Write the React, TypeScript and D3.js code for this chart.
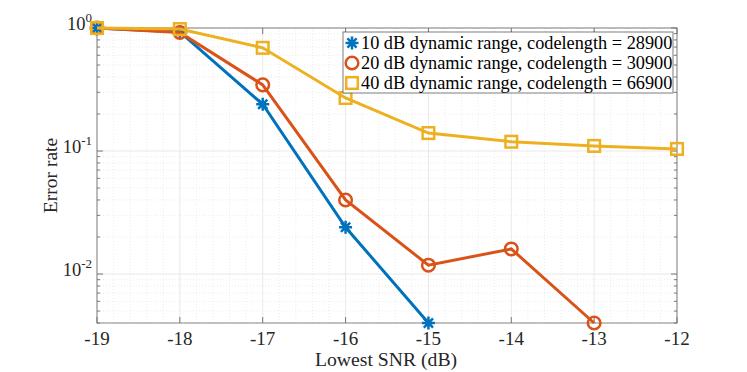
import React from "react";
import * as d3 from "d3";

const snr = [-19, -18, -17, -16, -15, -14, -13, -12];
const err10 = [1.0, 0.93, 0.24, 0.024, 0.004];
const err20 = [1.0, 0.92, 0.345, 0.04, 0.0118, 0.016, 0.004];
const err40 = [1.0, 0.98, 0.69, 0.27, 0.14, 0.119, 0.11, 0.104];
const legendLabels = [
  "10 dB dynamic range, codelength = 28900",
  "20 dB dynamic range, codelength = 30900",
  "40 dB dynamic range, codelength = 66900",
];
const xTicks = [-19, -18, -17, -16, -15, -14, -13, -12];
const yTickExps = [0, -1, -2];
const colors = ["#0072BD", "#D95319", "#EDB120"];

const W = 747, H = 372;
const L = 97, R = 677, T = 28, B = 323;

export default function App() {
  const x = d3.scaleLinear().domain([-19, -12]).range([L, R]);
  const y = d3.scaleLog().domain([0.004, 1]).range([B, T]);
  const series = [err10, err20, err40];
  const line = d3.line<[number, number]>().x(d => x(d[0])).y(d => y(d[1]));

  const minorX: number[] = [];
  for (let v = -19; v <= -12.0001; v += 0.2) {
    const r = Math.round(v * 10) / 10;
    if (Math.abs(r - Math.round(r)) > 1e-6) minorX.push(r);
  }
  const minorY: number[] = [];
  for (let e = -3; e <= 0; e++) for (let k = 2; k <= 9; k++) {
    const v = k * Math.pow(10, e);
    if (v >= 0.004 && v <= 1) minorY.push(v);
  }

  const marker = (i: number, cx: number, cy: number, key: string | number) => {
    const c = colors[i];
    if (i === 0) {
      const r = 6.5;
      const paths = [0, 45, 90, 135].map(a => {
        const rad = (a * Math.PI) / 180;
        return `M${cx - r * Math.cos(rad)},${cy - r * Math.sin(rad)}L${cx + r * Math.cos(rad)},${cy + r * Math.sin(rad)}`;
      });
      return <path key={key} d={paths.join("")} stroke={c} strokeWidth={2.5} fill="none" />;
    }
    if (i === 1) return <circle key={key} cx={cx} cy={cy} r={6.3} stroke={c} strokeWidth={2.5} fill="none" />;
    return <rect key={key} x={cx - 5.8} y={cy - 5.8} width={11.6} height={11.6} stroke={c} strokeWidth={2.5} fill="none" />;
  };

  const font = "'Liberation Serif', 'Times New Roman', serif";

  return (
    <svg width={W} height={H} style={{ position: "absolute", left: 0, top: 0, background: "#fff" }} fontFamily={font}>
      <rect x={0} y={0} width={W} height={H} fill="#fff" />
      {minorX.map((v, i) => (
        <line key={"mx" + i} x1={x(v)} x2={x(v)} y1={T} y2={B} stroke="#e4e4e4" strokeWidth={0.7} strokeDasharray="1,2" />
      ))}
      {minorY.map((v, i) => (
        <line key={"my" + i} x1={L} x2={R} y1={y(v)} y2={y(v)} stroke="#e4e4e4" strokeWidth={0.7} strokeDasharray="1,2" />
      ))}
      {xTicks.map((v, i) => (
        <line key={"gx" + i} x1={x(v)} x2={x(v)} y1={T} y2={B} stroke="#e3e3e3" strokeWidth={0.8} />
      ))}
      {yTickExps.map((e, i) => (
        <line key={"gy" + i} x1={L} x2={R} y1={y(Math.pow(10, e))} y2={y(Math.pow(10, e))} stroke="#e3e3e3" strokeWidth={0.8} />
      ))}
      <rect x={L} y={T} width={R - L} height={B - T} fill="none" stroke="#262626" strokeOpacity={0.55} strokeWidth={1} />
      {xTicks.map((v, i) => (
        <g key={"xt" + i}>
          <line x1={x(v)} x2={x(v)} y1={B} y2={B - 6} stroke="#777" />
          <line x1={x(v)} x2={x(v)} y1={T} y2={T + 6} stroke="#777" />
          <text x={x(v)} y={B + 22} textAnchor="middle" fontSize={19} fill="#262626">{v}</text>
        </g>
      ))}
      {yTickExps.map((e, i) => (
        <g key={"yt" + i}>
          <line x1={L} x2={L + 6} y1={y(Math.pow(10, e))} y2={y(Math.pow(10, e))} stroke="#777" />
          <line x1={R} x2={R - 6} y1={y(Math.pow(10, e))} y2={y(Math.pow(10, e))} stroke="#777" />
          <text x={L - 5} y={y(Math.pow(10, e)) + 2} textAnchor="end" fontSize={18.5} fill="#262626">
            10<tspan dy={-8} fontSize={13}>{e}</tspan>
          </text>
        </g>
      ))}
      {minorY.map((v, i) => (
        <g key={"myt" + i}>
          <line x1={L} x2={L + 3} y1={y(v)} y2={y(v)} stroke="#777" />
          <line x1={R} x2={R - 3} y1={y(v)} y2={y(v)} stroke="#777" />
        </g>
      ))}
      <text x={386} y={366} textAnchor="middle" fontSize={19.7} fill="#262626">Lowest SNR (dB)</text>
      <text transform={`translate(57,${(T + B) / 2}) rotate(-90)`} textAnchor="middle" fontSize={19.5} fill="#262626">Error rate</text>
      {series.map((s, i) => {
        const pts = s.map((v, j) => [snr[j], v] as [number, number]);
        return (
          <g key={"s" + i}>
            <path d={line(pts) || ""} fill="none" stroke={colors[i]} strokeWidth={3} />
            {pts.map((p, j) => marker(i, x(p[0]), y(p[1]), j))}
          </g>
        );
      })}
      <rect x={343} y={32} width={330} height={61} fill="#fff" stroke="#262626" strokeOpacity={0.6} strokeWidth={1} />
      {legendLabels.map((t, i) => (
        <g key={"lg" + i}>
          {marker(i, 352, 43 + i * 20, "lm" + i)}
          <text x={361} y={49 + i * 20} fontSize={18.3} fill="#000">{t}</text>
        </g>
      ))}
    </svg>
  );
}
